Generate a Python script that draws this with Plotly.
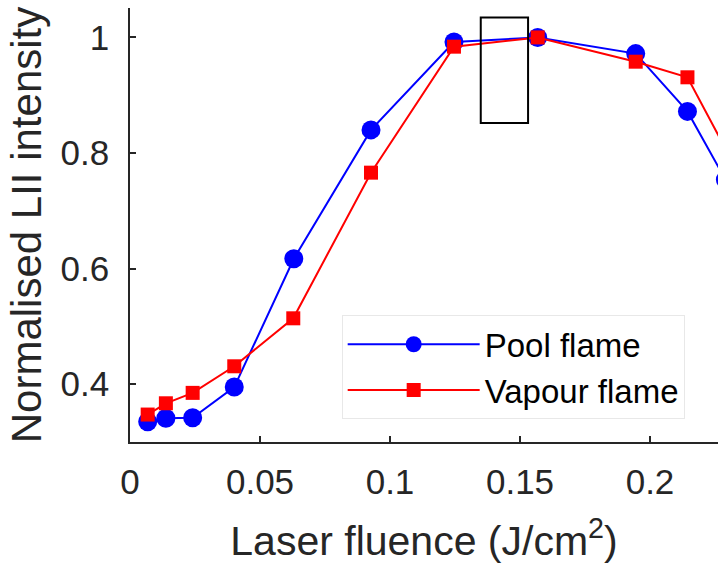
import plotly.graph_objects as go

fluence = [0.0068, 0.0138, 0.0241, 0.0401, 0.0630, 0.0927, 0.1246, 0.1568, 0.1945, 0.2144, 0.2290]
pool_flame = [0.335, 0.341, 0.342, 0.395, 0.617, 0.840, 0.992, 1.000, 0.972, 0.872, 0.754]
fluence_vap = [0.0068, 0.0138, 0.0241, 0.0401, 0.0628, 0.0927, 0.1246, 0.1568, 0.1945, 0.2144, 0.2330]
vapour_flame = [0.3475, 0.367, 0.385, 0.431, 0.514, 0.766, 0.984, 1.000, 0.958, 0.931, 0.774]

x_ticks = [0, 0.05, 0.1, 0.15, 0.2]
x_tick_labels = ["0", "0.05", "0.1", "0.15", "0.2"]
y_ticks = [0.4, 0.6, 0.8, 1.0]
y_tick_labels = ["0.4", "0.6", "0.8", "1"]

box_x = [0.1349, 0.1531]
box_y = [0.852, 1.0346]

FONT = "Liberation Sans, Arial, Helvetica, sans-serif"
AX = "#262626"

fig = go.Figure()
fig.add_trace(go.Scatter(
    x=fluence, y=pool_flame, mode="lines+markers", name="Pool flame",
    line=dict(color="#0000ff", width=2),
    marker=dict(symbol="circle", size=19, color="#0000ff"),
))
fig.add_trace(go.Scatter(
    x=fluence_vap, y=vapour_flame, mode="lines+markers", name="Vapour flame",
    line=dict(color="#ff0000", width=2),
    marker=dict(symbol="square", size=14, color="#ff0000"),
))

fig.add_shape(type="rect", xref="x", yref="y",
              x0=box_x[0], x1=box_x[1], y0=box_y[0], y1=box_y[1],
              line=dict(color="black", width=2))

fig.update_layout(
    width=718, height=564,
    margin=dict(l=130, r=0, t=8, b=122, pad=0),
    paper_bgcolor="white", plot_bgcolor="white",
    font=dict(family=FONT, color=AX),
    showlegend=True,
    legend=dict(
        x=0.36, y=0.292, xanchor="left", yanchor="top",
        bgcolor="white", bordercolor="#e8e8e8", borderwidth=1,
        font=dict(size=33, color="black", family=FONT),
        itemwidth=132, tracegroupgap=0,
    ),
    xaxis=dict(
        range=[0, 0.22615], tickvals=x_ticks, ticktext=x_tick_labels,
        ticks="inside", ticklen=6, tickwidth=1.5, tickcolor=AX,
        showline=True, linecolor=AX, linewidth=1.5, mirror=False,
        showgrid=False, zeroline=False,
        tickfont=dict(size=35, color=AX, family=FONT),
        ticklabelstandoff=8,
        title=dict(text="Laser fluence (J/cm<sup>2</sup>)",
                   font=dict(size=41, color=AX, family=FONT), standoff=28),
    ),
    yaxis=dict(
        range=[0.3, 1.0509], tickvals=y_ticks, ticktext=y_tick_labels,
        ticks="inside", ticklen=6, tickwidth=1.5, tickcolor=AX,
        showline=True, linecolor=AX, linewidth=1.5, mirror=False,
        showgrid=False, zeroline=False,
        tickfont=dict(size=35, color=AX, family=FONT),
        ticklabelstandoff=12,
        title=dict(text="Normalised LII intensity",
                   font=dict(size=42, color=AX, family=FONT), standoff=6),
    ),
)

fig.write_html("out.html")
